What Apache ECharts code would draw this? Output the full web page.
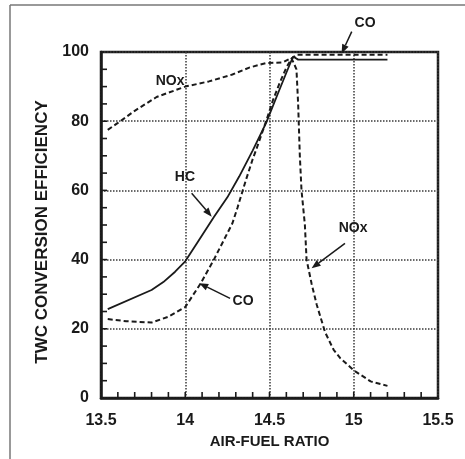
<!DOCTYPE html>
<html>
<head>
<meta charset="utf-8">
<script src="https://cdn.jsdelivr.net/npm/echarts@6/dist/echarts.min.js"></script>
<style>
  html, body { margin: 0; padding: 0; background: #fff; }
  #chart { width: 465px; height: 459px; }
</style>
</head>
<body>
<div id="chart"></div>
<script>
// air-fuel ratio / conversion efficiency
const hcX = [13.54, 13.8, 13.87, 13.94, 14.0, 14.08, 14.17, 14.25, 14.32, 14.4, 14.48, 14.55, 14.6, 14.64, 14.67, 15.2]
const hcY = [25.7, 31.2, 33.5, 36.5, 39.5, 45.5, 52.3, 58, 64, 71.5, 79.5, 88, 94, 98.7, 97.8, 97.8]

const coX = [13.54, 13.65, 13.8, 13.9, 14.0, 14.09, 14.17, 14.28, 14.31, 14.36, 14.4, 14.43, 14.48, 14.52, 14.56, 14.6, 14.63, 14.66, 15.2]
const coY = [22.8, 22.2, 21.8, 23.5, 26.3, 33, 40, 50.5, 55, 63, 69, 73, 80, 86, 91, 95.5, 98, 99.2, 99.2]

const noxX = [13.54, 13.6, 13.7, 13.83, 14.0, 14.14, 14.28, 14.38, 14.48, 14.58, 14.63, 14.66, 14.67, 14.68, 14.69, 14.71, 14.72, 14.75, 14.78, 14.83, 14.88, 14.92, 15.0, 15.1, 15.2]
const noxY = [77.5, 79.5, 83, 87, 90, 91.5, 93.5, 95.5, 96.8, 97, 98.3, 95, 85, 70, 60, 50, 40, 33, 27, 19, 14, 11.5, 8, 4.8, 3.5]

const xTicks = { min: 13.5, max: 15.5, step: 0.5 }
const yTicks = { min: 0, max: 100, step: 20 }

// small inward tick marks along the two axes
const xSmallTicks = [13.6, 13.7, 13.8, 13.9, 14.0, 14.1, 14.2, 14.3, 14.4, 14.5, 14.6, 14.7, 14.8, 14.9, 15.0, 15.1, 15.2, 15.3, 15.4]
const ySmallTicks = [5, 10, 15, 20, 25, 30, 35, 40, 45, 50, 55, 60, 65, 70, 75, 80, 85, 90, 95]

// callouts: label position, arrow start, arrow end (data units)
const labels = [
  { text: 'CO', at: [15.067, 108.4], from: [14.988, 105.9], to: [14.928, 99.6] },
  { text: 'NOx', at: [13.91, 91.6] },
  { text: 'HC', at: [13.998, 63.9], from: [14.038, 59.2], to: [14.157, 52.4] },
  { text: 'CO', at: [14.343, 28], from: [14.266, 28.8], to: [14.083, 33.2] },
  { text: 'NOx', at: [14.996, 49.1], from: [14.948, 44.7], to: [14.75, 37.5] },
]

const zip = (xs, ys) => xs.map((x, i) => [x, ys[i]])

const font = 'Liberation Sans, Arial, sans-serif'
const ink = '#1a1a1a'
const tickLen = 6

const chart = echarts.init(document.getElementById('chart'))

const option = {
  backgroundColor: '#fff',
  animation: false,
  grid: {
    left: 101, right: 27, top: 52, bottom: 61,
    show: true, borderColor: ink, borderWidth: 2.5,
  },
  xAxis: {
    type: 'value',
    min: xTicks.min, max: xTicks.max, interval: xTicks.step,
    name: 'AIR-FUEL RATIO',
    nameLocation: 'middle',
    nameGap: 32,
    nameTextStyle: { fontFamily: font, fontWeight: 'bold', fontSize: 15, color: ink },
    axisLine: { lineStyle: { color: ink, width: 2.5 } },
    axisTick: { show: false },
    axisLabel: { margin: 15, fontFamily: font, fontWeight: 'bold', fontSize: 16, color: ink },
    splitLine: { show: true, lineStyle: { type: 'dotted', color: '#3a3a3a', width: 1.5 } },
  },
  yAxis: {
    type: 'value',
    min: yTicks.min, max: yTicks.max, interval: yTicks.step,
    name: 'TWC CONVERSION EFFICIENCY',
    nameLocation: 'middle',
    nameGap: 50,
    nameTextStyle: { fontFamily: font, fontWeight: 'bold', fontSize: 17, color: ink, padding: [0, 14, 0, 0] },
    axisLine: { lineStyle: { color: ink, width: 2.5 } },
    axisTick: { show: false },
    axisLabel: { margin: 12, fontFamily: font, fontWeight: 'bold', fontSize: 16, color: ink },
    splitLine: { show: true, lineStyle: { type: 'dotted', color: '#3a3a3a', width: 1.5 } },
  },
  series: [
    {
      name: 'HC', type: 'line', data: zip(hcX, hcY),
      showSymbol: false, smooth: false,
      lineStyle: { color: ink, width: 1.8 },
    },
    {
      name: 'CO', type: 'line', data: zip(coX, coY),
      showSymbol: false, smooth: false,
      lineStyle: { color: ink, width: 2, type: [5, 3] },
    },
    {
      name: 'NOx', type: 'line', data: zip(noxX, noxY),
      showSymbol: false, smooth: false,
      lineStyle: { color: ink, width: 2, type: [5, 3] },
    },
    {
      name: 'xTicks', type: 'custom', silent: true, clip: false, z: 5,
      data: xSmallTicks.map(v => [v, yTicks.min]),
      renderItem: (params, api) => {
        const p = api.coord([api.value(0), api.value(1)])
        return { type: 'line', shape: { x1: p[0], y1: p[1], x2: p[0], y2: p[1] - tickLen }, style: { stroke: ink, lineWidth: 1.6 } }
      },
    },
    {
      name: 'yTicks', type: 'custom', silent: true, clip: false, z: 5,
      data: ySmallTicks.map(v => [xTicks.min, v]),
      renderItem: (params, api) => {
        const p = api.coord([api.value(0), api.value(1)])
        return { type: 'line', shape: { x1: p[0], y1: p[1], x2: p[0] + tickLen, y2: p[1] }, style: { stroke: ink, lineWidth: 1.6 } }
      },
    },
  ],
}

chart.setOption(option)

// page frame of the scan + callout texts and arrows, placed through the axes
const px = p => chart.convertToPixel({ xAxisIndex: 0, yAxisIndex: 0 }, p)
const graphic = [
  { type: 'line', shape: { x1: 10, y1: 5, x2: 465, y2: 5 }, style: { stroke: '#777', lineWidth: 1.5 } },
  { type: 'line', shape: { x1: 10, y1: 5, x2: 10, y2: 459 }, style: { stroke: '#777', lineWidth: 1.5 } },
]
labels.forEach(l => {
  const [tx, ty] = px(l.at)
  graphic.push({
    type: 'text', x: tx, y: ty, z: 10,
    style: {
      text: l.text, fill: ink, align: 'center', verticalAlign: 'middle',
      font: 'bold 14px ' + font,
    },
  })
  if (!l.from) return
  const [x1, y1] = px(l.from)
  const [x2, y2] = px(l.to)
  const a = Math.atan2(y2 - y1, x2 - x1)
  const len = 9, half = 3.5
  const bx = x2 - len * Math.cos(a), by = y2 - len * Math.sin(a)
  graphic.push({
    type: 'line', z: 10,
    shape: { x1, y1, x2: bx, y2: by },
    style: { stroke: ink, lineWidth: 1.5 },
  })
  graphic.push({
    type: 'polygon', z: 10,
    shape: {
      points: [
        [x2, y2],
        [bx + half * Math.sin(a), by - half * Math.cos(a)],
        [bx - half * Math.sin(a), by + half * Math.cos(a)],
      ],
    },
    style: { fill: ink },
  })
})
chart.setOption({ graphic })
</script>
</body>
</html>
